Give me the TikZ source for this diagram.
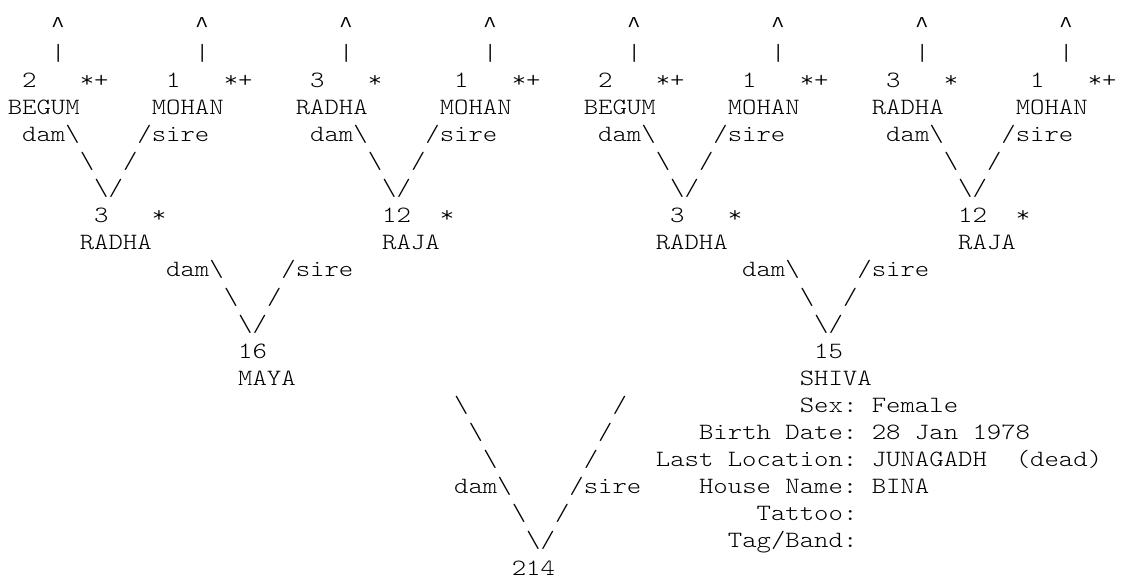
\documentclass[tikz,border=0pt]{standalone}
\usepackage{fontspec}
\newfontfamily\pedfont{lmmonolt10-regular.otf}[FakeStretch=1.175]
\newfontfamily\caretfont{Liberation Mono}
\usepackage{tikz}
\usetikzlibrary{positioning}

\newcommand{\bksl}{\textbackslash}

\begin{document}
\begin{tikzpicture}[
  x=10.8pt, y=-20.325pt,
  font=\pedfont\fontsize{17.5pt}{20pt}\selectfont,
  cell/.style={anchor=base west, inner sep=0pt, outer sep=0pt},
  key/.style={anchor=base east, inner sep=0pt, outer sep=0pt},
  caret/.style={cell, font=\caretfont\fontsize{17pt}{20pt}\selectfont},
]
  % --- canvas ---
  \path[fill=white, use as bounding box] (-5.85pt,24.75pt) rectangle (836.4pt,-408pt);

  % --- great-grandparents: arrows, numbers, marks, names ---
  \foreach \b/\nb/\mk/\who [count=\i] in {0/2/*+/BEGUM, 10/1/*+/MOHAN, 20/3/*/RADHA, 30/1/*+/MOHAN,
                                          40/2/*+/BEGUM, 50/1/*+/MOHAN, 60/3/*/RADHA, 70/1/*+/MOHAN}{
    \node[caret] (up\i) at (\b+3,0) {\textasciicircum};
    \node[cell] (bar\i) at (\b+3,1) {|};
    \node[cell] (num\i) at (\b+1,2) {\nb};
    \node[cell] (mk\i)  at (\b+5,2) {\mk};
    \node[cell] (nm\i)  at (\b,3) {\who};
  }

  % --- first V: dam/sire down to the grandparents ---
  \foreach \p [count=\i] in {0,20,40,60}{
    \node[cell] (damA\i)  at (\p+1,4) {dam\bksl};
    \node[cell] (sireA\i) at (\p+9,4) {/sire};
    \node[cell] (lA\i)    at (\p+5,5) {\bksl};
    \node[cell] (rA\i)    at (\p+8,5) {/};
    \node[cell] (vA\i)    at (\p+6,6) {\bksl/};
  }

  % --- grandparents ---
  \foreach \col/\nb/\at/\who [count=\i] in {6/3/5/RADHA, 26/12/26/RAJA, 46/3/45/RADHA, 66/12/66/RAJA}{
    \node[cell] (gnum\i) at (\col,7) {\nb};
    \node[cell] (gmk\i)  at (\col+4,7) {*};
    \node[cell] (gnm\i)  at (\at,8) {\who};
  }

  % --- second V: dam/sire down to the parents ---
  \foreach \q [count=\i] in {0,40}{
    \node[cell] (damP\i)  at (\q+11,9) {dam\bksl};
    \node[cell] (sireP\i) at (\q+19,9) {/sire};
    \node[cell] (lP\i)    at (\q+15,10) {\bksl};
    \node[cell] (rP\i)    at (\q+18,10) {/};
    \node[cell] (vP\i)    at (\q+16,11) {\bksl/};
  }

  % --- parents ---
  \node[cell] (numMaya)  at (16,12) {16};
  \node[cell] (maya)     at (16,13) {MAYA};
  \node[cell] (numShiva) at (56,12) {15};
  \node[cell] (shiva)    at (55,13) {SHIVA};

  % --- long V down to the subject ---
  \foreach \k in {0,1,2}{
    \node[cell] (lB\k) at (31+\k,14+\k) {\bksl};
    \node[cell] (rB\k) at (42-\k,14+\k) {/};
  }
  \node[cell] (damB)  at (31,17) {dam\bksl};
  \node[cell] (sireB) at (39,17) {/sire};
  \node[cell] (lB3)   at (35,18) {\bksl};
  \node[cell] (rB3)   at (38,18) {/};
  \node[cell] (vB)    at (36,19) {\bksl/};
  \node[cell] (subj)  at (35,20) {214};

  % --- details of SHIVA ---
  \foreach \r/\lab/\val [count=\i] in {14/Sex:/Female, 15/Birth Date:/28 Jan 1978,
                                       16/Last Location:/JUNAGADH, 17/House Name:/BINA}{
    \node[key]  (lab\i) at (59,\r) {\lab};
    \node[cell] (val\i) at (60,\r) {\val};
  }
  \node[cell] (dead)   at (70,16) {(dead)};
  \node[key]  (tattoo) at (59,18) {Tattoo:};
  \node[key]  (band)   at (59,19) {Tag/Band:};
\end{tikzpicture}
\end{document}
